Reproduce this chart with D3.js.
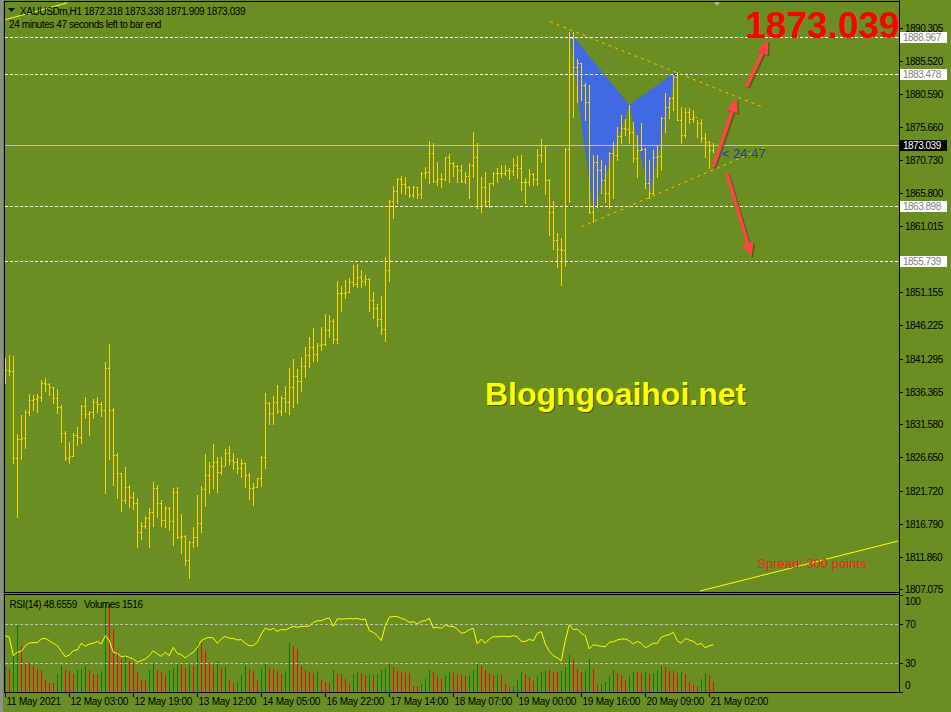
<!DOCTYPE html>
<html>
<head>
<meta charset="utf-8">
<script src="https://d3js.org/d3.v7.min.js"></script>
<style>
  html, body { margin: 0; padding: 0; background: #6b8e23; overflow: hidden; }
  svg { display: block; }
  text { font-family: "Liberation Sans", Arial, sans-serif; }
  .ui { font-size: 10px; letter-spacing: -0.4px; fill: #000; }
</style>
</head>
<body>
<svg id="chart" width="951" height="712"></svg>
<script>
// XAUUSDm H1 bars, 11 May 2021 11:00 -> 21 May 2021 03:00
const opens = [1838.50,1839.61,1839.51,1826.50,1829.32,1829.47,1833.42,1835.15,1835.25,1835.55,
  1837.63,1837.53,1837.03,1835.40,1834.17,1830.21,1826.50,1826.90,1829.96,1829.71,
  1834.26,1833.03,1833.32,1834.91,1834.56,1833.67,1839.85,1833.67,1826.99,1824.27,
  1820.32,1822.20,1820.81,1819.92,1815.62,1816.51,1817.60,1818.49,1822.05,1819.82,
  1817.35,1819.08,1817.25,1821.55,1814.78,1815.02,1811.41,1814.03,1814.88,1816.86,
  1821.90,1824.03,1825.36,1826.01,1824.50,1825.41,1827.24,1826.25,1826.01,1825.02,
  1825.76,1824.03,1822.05,1822.29,1823.53,1826.65,1834.66,1833.18,1834.81,1833.57,
  1835.40,1834.81,1837.03,1838.72,1838.02,1840.20,1841.80,1843.00,1842.00,1843.32,
  1843.42,1845.55,1846.93,1844.16,1851.08,1851.08,1851.23,1852.61,1852.37,1853.36,
  1852.81,1853.11,1850.00,1848.76,1847.18,1845.64,1854.45,1864.68,1866.22,1867.95,
  1867.21,1866.81,1865.57,1866.81,1865.67,1868.88,1868.93,1871.75,1867.70,1867.95,
  1867.90,1871.16,1870.27,1869.88,1869.28,1867.70,1868.39,1870.03,1871.16,1863.94,
  1866.81,1864.73,1867.30,1868.88,1868.88,1868.88,1869.28,1869.14,1870.03,1869.53,
  1867.55,1867.55,1868.69,1867.90,1871.51,1872.94,1867.80,1863.10,1858.90,1857.56,
  1857.41,1872.35,1888.82,1884.61,1885.11,1881.89,1879.42,1863.10,1870.52,1869.28,
  1867.80,1865.82,1871.86,1871.51,1874.33,1875.47,1875.32,1874.97,1871.01,1872.25,
  1872.40,1867.30,1865.82,1871.26,1871.36,1876.95,1878.68,1879.91,1883.13,1876.70,
  1874.47,1877.94,1876.80,1877.20,1876.20,1873.98,1873.49,1872.318];

const highs = [1841.34,1841.83,1841.68,1830.11,1832.93,1833.67,1836.04,1835.90,1836.04,1838.12,
  1838.37,1837.63,1837.13,1836.79,1834.41,1830.56,1828.87,1830.21,1831.20,1834.41,
  1835.55,1833.57,1835.25,1835.65,1834.91,1840.84,1843.46,1833.92,1827.24,1824.27,
  1825.16,1822.54,1821.50,1820.56,1817.10,1817.94,1819.08,1822.99,1822.54,1820.32,
  1819.43,1819.33,1822.05,1822.29,1818.19,1815.12,1814.23,1816.36,1821.06,1822.40,
  1827.14,1826.01,1828.58,1826.75,1826.75,1827.89,1828.33,1827.34,1826.50,1826.40,
  1825.76,1824.37,1822.79,1823.53,1826.90,1836.14,1834.91,1835.75,1837.38,1835.75,
  1837.23,1839.85,1841.24,1839.70,1841.50,1843.00,1844.50,1845.80,1843.57,1846.04,
  1847.92,1847.77,1847.13,1852.81,1852.07,1852.96,1853.21,1855.19,1855.29,1854.45,
  1853.70,1853.21,1851.13,1849.40,1850.59,1856.42,1864.83,1866.91,1868.05,1868.39,
  1868.29,1866.91,1866.91,1866.81,1869.03,1869.68,1873.58,1873.24,1870.52,1868.79,
  1871.26,1871.66,1870.52,1870.03,1870.03,1868.93,1870.27,1874.87,1873.24,1868.19,
  1868.93,1867.40,1869.03,1869.53,1870.03,1870.03,1869.53,1871.01,1871.36,1871.51,
  1868.05,1869.38,1868.88,1872.35,1873.88,1872.99,1867.90,1864.68,1859.98,1859.14,
  1872.50,1889.81,1889.81,1885.70,1885.11,1882.14,1881.89,1871.51,1871.51,1870.77,
  1870.03,1872.00,1873.49,1875.71,1877.44,1876.80,1878.93,1876.45,1874.47,1876.20,
  1872.50,1870.77,1872.25,1872.84,1877.20,1880.66,1880.16,1883.38,1883.87,1878.68,
  1878.43,1878.43,1878.19,1876.70,1876.80,1874.72,1873.60,1873.338];

const lows = [1837.73,1838.86,1825.86,1817.84,1826.40,1827.98,1832.93,1833.67,1833.42,1835.06,
  1836.54,1835.90,1834.66,1833.28,1828.97,1826.25,1825.86,1826.90,1828.53,1828.73,
  1832.43,1829.96,1832.43,1833.42,1832.78,1821.31,1826.40,1822.54,1820.66,1818.73,
  1819.92,1819.33,1819.03,1813.29,1814.53,1816.11,1813.29,1816.46,1817.84,1816.46,
  1816.36,1815.87,1813.64,1814.63,1812.50,1810.67,1808.69,1813.39,1813.54,1815.62,
  1819.43,1821.41,1822.05,1821.55,1824.18,1825.51,1825.66,1824.92,1824.27,1823.78,
  1822.29,1820.47,1819.57,1822.20,1822.44,1825.11,1831.54,1831.59,1833.18,1832.93,
  1833.42,1833.08,1834.17,1834.66,1836.50,1838.50,1840.00,1841.00,1841.00,1842.58,
  1843.30,1844.55,1843.57,1843.57,1848.36,1850.24,1851.23,1852.07,1851.97,1851.97,
  1852.22,1848.36,1847.27,1846.19,1844.90,1843.96,1852.86,1862.21,1864.43,1865.82,
  1865.72,1865.33,1865.23,1865.18,1865.18,1868.05,1867.30,1867.55,1867.05,1866.71,
  1867.80,1867.55,1868.44,1867.55,1867.55,1867.30,1865.18,1868.29,1863.59,1863.10,
  1864.09,1863.84,1867.05,1867.55,1868.29,1868.54,1867.95,1868.54,1868.05,1866.31,
  1864.43,1867.05,1867.05,1867.05,1870.52,1865.72,1859.64,1857.56,1854.94,1852.22,
  1855.04,1864.58,1877.20,1879.42,1879.67,1876.70,1862.85,1861.61,1863.84,1865.82,
  1864.58,1863.60,1865.08,1870.77,1873.24,1874.47,1873.24,1870.52,1868.29,1872.25,
  1866.56,1865.08,1865.70,1868.29,1869.28,1874.97,1876.95,1878.19,1876.70,1873.24,
  1874.23,1876.20,1876.45,1874.23,1873.49,1871.26,1869.53,1871.909];

const closes = [1839.61,1839.51,1826.50,1829.32,1829.47,1833.42,1835.15,1835.25,1835.55,1837.63,
  1837.53,1837.03,1835.40,1834.17,1830.21,1826.50,1826.90,1829.96,1829.71,1834.26,
  1833.03,1833.32,1834.91,1834.56,1833.67,1839.85,1833.67,1826.99,1824.27,1820.32,
  1822.20,1820.81,1819.92,1815.62,1816.51,1817.60,1818.49,1822.05,1819.82,1817.35,
  1819.08,1817.25,1821.55,1814.78,1815.02,1811.41,1814.03,1814.88,1816.86,1821.90,
  1824.03,1825.36,1826.01,1824.50,1825.41,1827.24,1826.25,1826.01,1825.02,1825.76,
  1824.03,1822.05,1822.29,1823.53,1826.65,1834.66,1833.18,1834.81,1833.57,1835.40,
  1834.81,1837.03,1838.72,1838.02,1840.20,1841.80,1843.00,1842.00,1843.32,1843.42,
  1845.55,1846.93,1844.16,1851.08,1851.08,1851.23,1852.61,1852.37,1853.36,1852.81,
  1853.11,1850.00,1848.76,1847.18,1845.64,1854.45,1864.68,1866.22,1867.95,1867.21,
  1866.81,1865.57,1866.81,1865.67,1868.88,1868.93,1871.75,1867.70,1867.95,1867.90,
  1871.16,1870.27,1869.88,1869.28,1867.70,1868.39,1870.03,1871.16,1863.94,1866.81,
  1864.73,1867.30,1868.88,1868.88,1868.88,1869.28,1869.14,1870.03,1869.53,1867.55,
  1867.55,1868.69,1867.90,1871.51,1872.94,1867.80,1863.10,1858.90,1857.56,1857.41,
  1872.35,1888.82,1884.61,1885.11,1881.89,1879.42,1863.10,1870.52,1869.28,1867.80,
  1865.82,1871.86,1871.51,1874.33,1875.47,1875.32,1874.97,1871.01,1872.25,1872.40,
  1867.30,1865.82,1871.26,1871.36,1876.95,1878.68,1879.91,1883.13,1876.70,1874.47,
  1877.94,1876.80,1877.20,1876.20,1873.98,1873.49,1872.32,1873.039];

const rsiValues = [58.1,56.4,37.5,40.9,41.9,47.8,50.5,50.9,50.9,54.6,
  55.3,52.9,50.2,47.8,41.9,36.4,38.1,42.6,43.3,50.2,
  47.1,49.5,50.2,52.2,49.5,58.1,52.9,40.9,39.9,36.4,
  37.1,35.7,34.0,30.6,32.3,34.0,37.5,42.6,39.2,36.8,
  40.9,37.5,46.0,39.9,38.5,35.1,38.5,40.9,46.0,52.9,
  55.3,56.4,55.7,50.2,54.6,57.4,55.3,55.3,53.6,54.0,
  50.2,47.8,47.8,51.2,59.8,66.0,63.9,65.6,62.5,64.6,
  63.9,66.0,67.7,66.7,67.7,67.7,68.0,71.8,73.5,73.5,
  75.3,76.3,67.7,75.3,75.3,75.3,75.9,75.3,75.9,74.6,
  75.3,63.2,61.5,58.1,52.9,68.4,77.0,78.0,77.7,75.9,
  74.6,71.8,72.5,70.1,72.9,73.5,75.9,66.0,66.7,65.6,
  69.1,67.7,67.4,64.9,60.5,61.5,64.3,65.6,49.5,54.6,
  50.2,54.6,57.0,57.0,57.4,57.4,57.0,58.1,57.0,52.2,
  52.2,54.3,52.9,60.5,62.2,49.5,41.9,37.5,35.1,32.3,
  52.9,69.4,64.3,64.9,60.5,58.1,44.3,48.8,47.8,47.1,
  46.7,51.2,51.9,53.6,54.6,54.6,52.9,49.5,52.2,50.2,
  45.4,47.8,50.2,50.2,56.4,58.1,59.1,61.5,52.9,50.2,
  55.3,53.6,52.2,48.8,50.2,45.4,47.8,48.66];

const volumes = [4004,3588,5876,10556,7124,4576,4524,4004,3536,3484,
  1924,1404,1400,2860,4004,3484,3276,2756,3380,3640,
  4004,3380,2860,2850,3224,13884,13780,9776,6396,5200,
  5824,4784,4524,3120,1820,1810,3380,4576,3380,3120,
  2600,3484,3796,4316,4160,3796,4264,4004,7700,7600,
  6344,4576,4160,4836,3796,3952,1924,1404,1508,2704,
  4108,3640,3328,1924,3640,4420,3796,3588,3276,2860,
  3328,7696,7124,6656,4004,3380,3172,3016,3328,1924,
  1560,1352,3484,2860,2756,1976,1300,2756,3068,3016,
  2600,2860,2600,2860,3484,3796,4316,3848,3224,3172,
  2912,2900,988,980,1196,2080,3484,3068,2548,2080,
  2548,3172,3016,2860,2704,2548,2704,3484,4576,4108,
  3484,3016,2704,2860,2704,1300,832,988,1924,3172,
  2860,2288,1768,2548,3172,3484,3480,3172,3160,3328,
  3952,5824,5200,3640,3172,3328,5200,3640,1144,1300,
  1612,2548,3484,3016,2704,1924,2548,3172,3160,3016,
  3068,2860,2964,3484,4108,3952,3328,3276,3016,3172,
  2860,1612,1144,988,2080,3016,2704,1516];

// 1856.085 sits behind the 1855.739 level tag in the reference, so it is left out
const priceTicks = [1890.305,1885.520,1880.590,1875.660,1870.730,1865.800,1861.015,1851.155,
  1846.225,1841.295,1836.365,1831.580,1826.650,1821.720,1816.790,1811.860,1807.075];
const levelLines = [1888.967, 1883.478, 1863.898, 1855.739];
const lastPrice = 1873.039;
const dateTickBars = [0,16,32,48,64,80,96,112,128,144,160,176];
const dateTickLabels = ["11 May 2021","12 May 03:00","12 May 19:00","13 May 12:00","14 May 05:00","16 May 22:00",
  "17 May 14:00","18 May 07:00","19 May 00:00","19 May 16:00","20 May 09:00","21 May 02:00"];
const rsiLevels = [70, 30];
const rsiTicks = [100, 70, 30, 0];

// drawn objects: [bar index, price]
const harmonicLeft = [[141,1889.8],[147,1862.9],[156,1878.93]];
const harmonicRight = [[156,1878.93],[161,1865.6],[168,1884.0]];
const channelUpper = [[136.2,1891.28],[189.1,1878.67]];
const channelLower = [[144.1,1860.87],[190.75,1872.84]];
const arrowLines = [
  [[177,1869.77],[182.85,1879.92]],
  [[185.35,1881.64],[190.75,1888.57]],
  [[180.35,1868.88],[186.6,1856.42]]
];
const spreadLine = [[173.7,1806.82],[223.2,1814.24]];
const cornerLine = [[-0.3,1891.54],[15.4,1894.06]];

const svg = d3.select("#chart");
const mainTop = 2, mainBottom = 592, rsiTop = 595, rsiBottom = 692, plotLeft = 5, plotRight = 899;

const x = d3.scaleLinear().domain([0, 177]).range([5.3, 713.3]);
const y = d3.scaleLinear().domain([1807.075, 1890.305]).range([589.3, 28.3]);
const yR = d3.scaleLinear().domain([0, 100]).range([rsiBottom, rsiTop]);
const yV = d3.scaleLinear().domain([0, 15132]).range([rsiBottom, rsiTop]);
const px = (i) => Math.round(x(i));
const py = (v) => Math.round(y(v));
const pt = (d) => [x(d[0]), y(d[1])];

const defs = svg.append("defs");
defs.append("clipPath").attr("id", "clip-main")
  .append("rect").attr("x", plotLeft).attr("y", mainTop).attr("width", plotRight - plotLeft).attr("height", mainBottom - mainTop);
defs.append("clipPath").attr("id", "clip-rsi")
  .append("rect").attr("x", plotLeft).attr("y", rsiTop).attr("width", plotRight - plotLeft).attr("height", rsiBottom - rsiTop);

// window chrome
svg.append("rect").attr("x", 0).attr("y", 0).attr("width", 3).attr("height", 712).attr("fill", "#8f8f8f");

const main = svg.append("g").attr("clip-path", "url(#clip-main)");

// harmonic pattern
main.selectAll("polygon.pattern")
  .data([harmonicLeft, harmonicRight])
  .join("polygon")
  .attr("class", "pattern")
  .attr("points", (d) => d.map(pt).map((p) => p.join(",")).join(" "))
  .attr("fill", "#4169e1");

// OHLC bars
const bars = main.append("g").attr("fill", "#ffd700");
d3.range(closes.length).forEach((i) => {
  const top = py(highs[i]), bot = py(lows[i]);
  bars.append("rect").attr("x", px(i)).attr("y", top).attr("width", 1).attr("height", bot - top + 1);
  bars.append("rect").attr("x", px(i) - 1).attr("y", py(opens[i])).attr("width", 1).attr("height", 1);
  bars.append("rect").attr("x", px(i) + 1).attr("y", py(closes[i])).attr("width", 1).attr("height", 1);
});

// horizontal levels
main.selectAll("line.level")
  .data(levelLines)
  .join("line")
  .attr("class", "level")
  .attr("x1", plotLeft).attr("x2", plotRight)
  .attr("y1", (d) => py(d) + 0.5).attr("y2", (d) => py(d) + 0.5)
  .attr("stroke", "#ffffff").attr("stroke-dasharray", "3,2");

main.append("line")
  .attr("x1", plotLeft).attr("x2", plotRight)
  .attr("y1", py(lastPrice) + 0.5).attr("y2", py(lastPrice) + 0.5)
  .attr("stroke", "#c0c0c0");

// channel lines
main.selectAll("line.channel")
  .data([channelUpper, channelLower])
  .join("line")
  .attr("class", "channel")
  .attr("x1", (d) => x(d[0][0])).attr("y1", (d) => y(d[0][1]))
  .attr("x2", (d) => x(d[1][0])).attr("y2", (d) => y(d[1][1]))
  .attr("stroke", "#ffc000").attr("stroke-dasharray", "3,4");

main.selectAll("line.yellow")
  .data([spreadLine, cornerLine])
  .join("line")
  .attr("class", "yellow")
  .attr("x1", (d) => x(d[0][0])).attr("y1", (d) => y(d[0][1]))
  .attr("x2", (d) => x(d[1][0])).attr("y2", (d) => y(d[1][1]))
  .attr("stroke", "#ffff00");

// arrows
const drawArrow = (g, a, b, color, dx, dy) => {
  const ang = Math.atan2(b[1] - a[1], b[0] - a[0]);
  const headLen = 14, headW = 6;
  const base = [b[0] - headLen * Math.cos(ang), b[1] - headLen * Math.sin(ang)];
  g.append("line")
    .attr("x1", a[0] + dx).attr("y1", a[1] + dy).attr("x2", base[0] + dx).attr("y2", base[1] + dy)
    .attr("stroke", color).attr("stroke-width", 3.5);
  const nx = -Math.sin(ang) * headW, ny = Math.cos(ang) * headW;
  g.append("polygon")
    .attr("points", [[b[0] + dx, b[1] + dy], [base[0] + nx + dx, base[1] + ny + dy], [base[0] - nx + dx, base[1] - ny + dy]]
      .map((p) => p.join(",")).join(" "))
    .attr("fill", color);
};
const arrowG = main.append("g");
arrowLines.forEach((d) => drawArrow(arrowG, pt(d[0]), pt(d[1]), "rgba(60,40,0,0.45)", 1.5, 1.5));
arrowLines.forEach((d) => drawArrow(arrowG, pt(d[0]), pt(d[1]), "#ff4646", 0, 0));

// annotations
main.append("text")
  .attr("x", x(185)).attr("y", y(1888.8))
  .attr("font-size", 37).attr("font-weight", "bold").attr("fill", "#ff0000")
  .text("1873.039");
main.append("text")
  .attr("x", x(179.1)).attr("y", y(1871.1))
  .attr("font-size", 13).attr("fill", "#2030d0")
  .text("< 24:47");
main.append("text")
  .attr("x", x(188)).attr("y", y(1810.2))
  .attr("font-size", 13).attr("fill", "#ff1a1a")
  .text("Spread: 300 points");
main.append("text")
  .attr("x", x(119.9) + 1).attr("y", y(1834.4) + 1)
  .attr("font-size", 32).attr("font-weight", "bold").attr("fill", "#3d4f0c")
  .text("Blogngoaihoi.net");
main.append("text")
  .attr("x", x(119.9)).attr("y", y(1834.4))
  .attr("font-size", 32).attr("font-weight", "bold").attr("fill", "#ffff00")
  .text("Blogngoaihoi.net");

// header
svg.append("path").attr("d", "M8,8 L15,8 L11.5,12 Z").attr("fill", "#000");
svg.append("text").attr("class", "ui").attr("x", 20).attr("y", 14.5)
  .text("XAUUSDm,H1  1872.318 1873.338 1871.909 1873.039");
svg.append("text").attr("class", "ui").attr("x", 9).attr("y", 28)
  .text("24 minutes 47 seconds left to bar end");
svg.append("path").attr("d", "M713,1 L721,1 L717,6 Z").attr("fill", "#b0b0b0");

// RSI + volumes panel
const sub = svg.append("g").attr("clip-path", "url(#clip-rsi)");
sub.selectAll("rect.vol")
  .data(volumes)
  .join("rect")
  .attr("class", "vol")
  .attr("x", (d, i) => px(i))
  .attr("y", (d) => Math.round(yV(d)))
  .attr("width", 1)
  .attr("height", (d) => rsiBottom - Math.round(yV(d)))
  .attr("fill", (d, i) => (i > 0 && d > volumes[i - 1]) || i === 0 ? "#008000" : "#ff0000");

sub.selectAll("line.rsilevel")
  .data(rsiLevels)
  .join("line")
  .attr("class", "rsilevel")
  .attr("x1", plotLeft).attr("x2", plotRight)
  .attr("y1", (d) => Math.round(yR(d)) + 0.5).attr("y2", (d) => Math.round(yR(d)) + 0.5)
  .attr("stroke", "#c0c0c0").attr("stroke-dasharray", "3,2");

sub.append("path")
  .datum(rsiValues)
  .attr("d", d3.line().x((d, i) => x(i)).y((d) => yR(d)))
  .attr("fill", "none").attr("stroke", "#ffff00").attr("stroke-width", 1);

svg.append("text").attr("class", "ui").attr("x", 9.5).attr("y", 607.5).text("RSI(14) 48.6559");
svg.append("text").attr("class", "ui").attr("x", 84).attr("y", 607.5).text("Volumes 1516");

// panel frames
svg.append("rect").attr("x", 4.5).attr("y", 1.5).attr("width", plotRight - 4).attr("height", mainBottom - 1)
  .attr("fill", "none").attr("stroke", "#000");
svg.append("rect").attr("x", 4.5).attr("y", rsiTop - 0.5).attr("width", plotRight - 4).attr("height", rsiBottom - rsiTop + 1)
  .attr("fill", "none").attr("stroke", "#000");

// price axis
const axisG = svg.append("g");
axisG.selectAll("line.ptick")
  .data(priceTicks)
  .join("line")
  .attr("class", "ptick")
  .attr("x1", plotRight + 0.5).attr("x2", plotRight + 4)
  .attr("y1", (d) => py(d) + 0.5).attr("y2", (d) => py(d) + 0.5)
  .attr("stroke", "#000");
axisG.selectAll("text.plabel")
  .data(priceTicks)
  .join("text")
  .attr("class", "ui plabel")
  .attr("x", 905).attr("y", (d) => py(d) + 3.5)
  .style("letter-spacing", "-0.5px")
  .text((d) => d.toFixed(3));

const levelTags = axisG.selectAll("g.tag")
  .data(levelLines.map((v) => ({ v, bg: "#ffffff", fg: "#7f7f7f" })).concat([{ v: lastPrice, bg: "#000000", fg: "#ffffff" }]))
  .join("g")
  .attr("class", "tag");
levelTags.append("rect")
  .attr("x", 900).attr("y", (d) => py(d.v) - 5).attr("width", 47).attr("height", 11)
  .attr("fill", (d) => d.bg);
levelTags.append("text")
  .attr("class", "ui")
  .attr("x", 903).attr("y", (d) => py(d.v) + 4)
  .style("letter-spacing", "-0.5px")
  .style("fill", (d) => d.fg)
  .text((d) => d.v.toFixed(3));

// rsi axis
axisG.selectAll("line.rtick")
  .data(rsiTicks)
  .join("line")
  .attr("class", "rtick")
  .attr("x1", plotRight + 0.5).attr("x2", plotRight + 4)
  .attr("y1", (d) => Math.round(yR(d)) + 0.5).attr("y2", (d) => Math.round(yR(d)) + 0.5)
  .attr("stroke", "#000");
axisG.selectAll("text.rlabel")
  .data(rsiTicks)
  .join("text")
  .attr("class", "ui rlabel")
  .attr("x", 905)
  .attr("y", (d) => Math.min(rsiBottom - 3, Math.max(rsiTop + 10, Math.round(yR(d)) + 4)))
  .text((d) => d);

// time axis
axisG.selectAll("line.ttick")
  .data(dateTickBars)
  .join("line")
  .attr("class", "ttick")
  .attr("x1", (d) => px(d) + 0.5).attr("x2", (d) => px(d) + 0.5)
  .attr("y1", rsiBottom).attr("y2", rsiBottom + 5)
  .attr("stroke", "#000");
axisG.selectAll("text.tlabel")
  .data(dateTickBars)
  .join("text")
  .attr("class", "ui tlabel")
  .attr("x", (d) => px(d) + 1.5).attr("y", 705)
  .style("letter-spacing", "-0.25px")
  .text((d, i) => dateTickLabels[i]);

svg.append("line").attr("x1", plotRight + 0.5).attr("x2", plotRight + 0.5).attr("y1", 0).attr("y2", rsiBottom + 1).attr("stroke", "#000");
</script>
</body>
</html>
